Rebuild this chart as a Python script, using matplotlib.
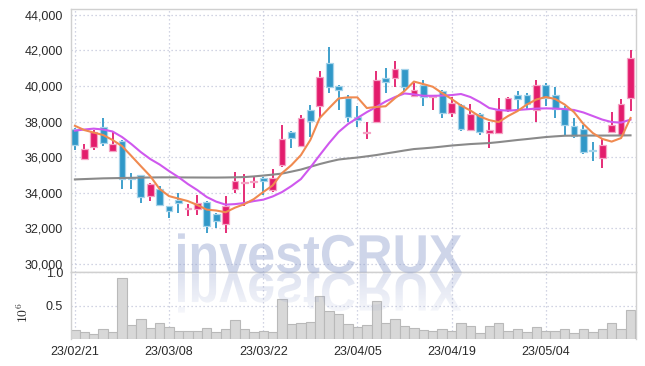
import matplotlib
matplotlib.use('Agg')
import matplotlib.pyplot as plt
import numpy as np
from matplotlib.patches import Rectangle, PathPatch
from matplotlib.textpath import TextPath
from matplotlib.font_manager import FontProperties, fontManager
from matplotlib.transforms import Affine2D

# ---------------- data ----------------
tick_labels = ['23/02/21', '23/03/08', '23/03/22', '23/04/05', '23/04/19', '23/05/04']

opens = [37600, 35900, 36550, 37700, 36350, 36900, 34800, 35000, 33800, 34200,
         33250, 33600, 33050, 33050, 33450, 32800, 32250, 34200, 34550, 34600,
         34800, 34150, 35550, 37400, 36600, 38650, 38900, 41300, 40000, 39300,
         38250, 37350, 38000, 40450, 40450, 40950, 39450, 40050, 39400, 39700,
         38500, 38950, 37500, 38400, 37350, 37350, 38650, 39500, 39500, 38650,
         40050, 39500, 38750, 37750, 37600, 36400, 35950, 37400, 37250, 39300]
highs = [37650, 36750, 37500, 38200, 37400, 36950, 35100, 35000, 34550, 34350,
         33250, 33950, 33350, 33850, 33500, 32850, 33800, 35150, 35050, 34850,
         34900, 35300, 37800, 37450, 38350, 38950, 40850, 42200, 40050, 39500,
         38850, 37950, 40850, 41000, 41400, 40950, 40150, 40350, 39450, 39800,
         39400, 39000, 39000, 38500, 37950, 39350, 39400, 39700, 39600, 40350,
         40150, 39950, 38850, 38200, 37800, 36850, 37000, 38550, 39250, 42050]
lows = [36400, 35850, 36400, 36600, 36350, 34200, 34200, 33400, 33500, 33250,
        32550, 32850, 32700, 32750, 31750, 32000, 31750, 34000, 33250, 34250,
        33850, 34050, 35450, 36500, 36550, 37150, 38250, 39600, 38650, 38000,
        37700, 37000, 37950, 39600, 39950, 39700, 39400, 38900, 38650, 38200,
        38250, 37450, 37450, 37250, 36500, 37350, 38550, 38700, 38650, 37950,
        38850, 38200, 37250, 37100, 36150, 35750, 35400, 37350, 37200, 38600]
closes = [36700, 36450, 37400, 36800, 36750, 34750, 34750, 33750, 34500, 33300,
          32950, 33400, 33150, 33400, 32100, 32400, 33250, 34650, 34600, 34650,
          34650, 34800, 37000, 37050, 38200, 38050, 40500, 39950, 39750, 38250,
          38100, 37400, 40350, 40250, 40950, 39950, 39800, 39400, 39450, 38500,
          39050, 37600, 38400, 37400, 37550, 38650, 39300, 39250, 39000, 40050,
          39300, 38700, 37800, 37200, 36300, 36350, 36700, 37800, 39000, 41550]
volume_m = [0.14, 0.10, 0.08, 0.155, 0.11, 0.91, 0.205, 0.305, 0.17, 0.235,
            0.185, 0.125, 0.125, 0.125, 0.17, 0.11, 0.155, 0.29, 0.155, 0.11,
            0.125, 0.11, 0.595, 0.23, 0.245, 0.26, 0.64, 0.425, 0.38, 0.23,
            0.185, 0.215, 0.565, 0.245, 0.305, 0.2, 0.17, 0.14, 0.125, 0.155,
            0.125, 0.245, 0.2, 0.095, 0.2, 0.245, 0.125, 0.155, 0.11, 0.185,
            0.125, 0.125, 0.155, 0.095, 0.155, 0.11, 0.155, 0.245, 0.155, 0.44]
ma_short = [37760, 37520, 37380, 37240, 36960, 36620, 36060, 35490, 34930, 34200,
            33800, 33660, 33520, 33300, 33040, 32990, 32890, 33150, 33350, 33630,
            34030, 34400, 35100, 35550, 36110, 36960, 38200, 38760, 39300, 39360,
            39360, 38760, 38820, 38860, 39320, 39720, 40250, 40110, 39960, 39600,
            39270, 38900, 38620, 38280, 38080, 37970, 38310, 38590, 38960, 39240,
            39380, 39270, 38960, 38530, 37860, 37350, 37020, 36870, 37070, 38200]
ma_mid = [37490, 37550, 37600, 37550, 37440, 37130, 36730, 36280, 35890, 35580,
          35210, 34870, 34480, 34140, 33750, 33490, 33320, 33350, 33410, 33520,
          33600, 33780, 34030, 34370, 34760, 35410, 36110, 36790, 37410, 37860,
          38200, 38530, 38820, 39130, 39380, 39580, 39530, 39450, 39450, 39460,
          39490, 39550, 39380, 39100, 38760, 38650, 38610, 38650, 38690, 38730,
          38740, 38730, 38700, 38650, 38510, 38310, 38110, 37970, 37940, 38110]
ma_long = [34740, 34760, 34780, 34800, 34810, 34820, 34830, 34840, 34850, 34855,
           34856, 34855, 34850, 34848, 34846, 34845, 34850, 34860, 34873, 34910,
           34958, 35010, 35070, 35180, 35296, 35450, 35606, 35740, 35860, 35920,
           35972, 36040, 36112, 36200, 36282, 36370, 36450, 36490, 36535, 36590,
           36648, 36690, 36732, 36760, 36788, 36840, 36900, 36960, 37013, 37070,
           37126, 37165, 37200, 37205, 37210, 37210, 37210, 37212, 37215, 37222]

# ---------------- style ----------------
names = {f.name for f in fontManager.ttflist}
fam = 'Liberation Sans' if 'Liberation Sans' in names else 'DejaVu Sans'
plt.rcParams['font.family'] = [fam, 'DejaVu Sans']
plt.rcParams['mathtext.fontset'] = 'cm'

UP = '#e31c6c'
UP_EDGE = '#f4a3c4'
DOWN = '#3098c8'
DOWN_EDGE = '#a5d3ea'
GRID = '#c3c7da'
SPINE = '#d0d0d0'
TXT = '#2a2a2a'

W, H = 645, 366
fig = plt.figure(figsize=(W / 100, H / 100), dpi=100)
left, right = 71.3 / W, 635.7 / W
ax = fig.add_axes([left, 1 - 272.3 / H, right - left, (272.3 - 9.3) / H])
axv = fig.add_axes([left, 1 - 339.1 / H, right - left, (339.1 - 272.3) / H], sharex=ax)

n = len(closes)
x = np.arange(n)

# candles
for i in range(n):
    o, h, l, c = opens[i], highs[i], lows[i], closes[i]
    up = c >= o
    col = UP if up else DOWN
    edge = UP_EDGE if up else DOWN_EDGE
    ax.vlines(i, l, h, color=col, lw=1.3, zorder=2)
    bot = min(o, c)
    hgt = max(abs(c - o), 60)
    ax.add_patch(Rectangle((i - 0.36, bot), 0.72, hgt, facecolor=col,
                           edgecolor=edge, lw=0.9, zorder=2.5))

ax.plot(x, ma_long, color='#8a8a8a', lw=1.5, zorder=3)
ax.plot(x, ma_mid, color='#cf58ee', lw=1.5, zorder=3.2)
ax.plot(x, ma_short, color='#f08a50', lw=1.5, zorder=3.4)

ax.set_xlim(-0.38, n - 0.45)
ax.set_ylim(29510, 44320)
yt = list(range(30000, 44001, 2000))
ax.set_yticks(yt)
ax.set_yticklabels([f'{v:,}' for v in yt])

# volume
axv.bar(x, volume_m, width=1.0, color='#d8d8d8', edgecolor='#b9b9b9', lw=0.8, zorder=2)
axv.set_ylim(0, 1.0)
axv.set_yticks([0.5, 1.0])
axv.set_yticklabels(['0.5', '1.0'])
axv.set_ylabel(r'$10^{6}$', fontsize=10, color=TXT, rotation=90)
axv.yaxis.set_label_coords(-0.071, 0.40)

xt = list(range(0, n, 10))
axv.set_xticks(xt)
axv.set_xticklabels(tick_labels[:len(xt)])

for a in (ax, axv):
    a.grid(True, linestyle=(0, (1, 2.2)), color=GRID, lw=0.9, zorder=0)
    a.set_axisbelow(True)
    a.tick_params(length=0, labelsize=9, labelcolor=TXT, pad=6)
    for s in a.spines.values():
        s.set_color(SPINE)
        s.set_linewidth(1.0)
ax.tick_params(axis='x', labelbottom=False)
axv.tick_params(axis='x', pad=5)
axv.spines['bottom'].set_visible(False)

# watermark
axo = fig.add_axes([0, 0, 1, 1], zorder=10)
axo.axis('off')
axo.set_xlim(0, W)
axo.set_ylim(0, H)
fp = FontProperties(family=fam, weight='bold')
tp = TextPath((0, 0), 'investCRUX', size=54, prop=fp)
bb = tp.get_extents()
x0, x1 = 178, 462
base = H - 272.5
sx = (x1 - x0) / bb.width
tr_main = Affine2D().translate(-bb.x0, 0).scale(sx, 1.0).translate(x0, base)
main_path = tr_main.transform_path(tp)
axo.add_patch(PathPatch(main_path, facecolor=(0.55, 0.61, 0.80), alpha=0.42, lw=0))

tr_ref = Affine2D().translate(-bb.x0, 0).scale(sx, -1.0).translate(x0, base - 1)
ref_path = tr_ref.transform_path(tp)
ref_patch = PathPatch(ref_path, facecolor='none', lw=0, transform=axo.transData)
axo.add_patch(ref_patch)
grad = np.zeros((60, 2, 4))
grad[..., 0] = 0.55
grad[..., 1] = 0.61
grad[..., 2] = 0.80
grad[..., 3] = np.linspace(0.30, 0.05, 60)[:, None]
im = axo.imshow(grad, extent=[x0 - 5, x1 + 5, base - 1 - 45, base - 1],
                origin='upper', aspect='auto', interpolation='bilinear')
im.set_clip_path(ref_patch)
axo.set_xlim(0, W)
axo.set_ylim(0, H)

fig.savefig('out.png', dpi=100)
